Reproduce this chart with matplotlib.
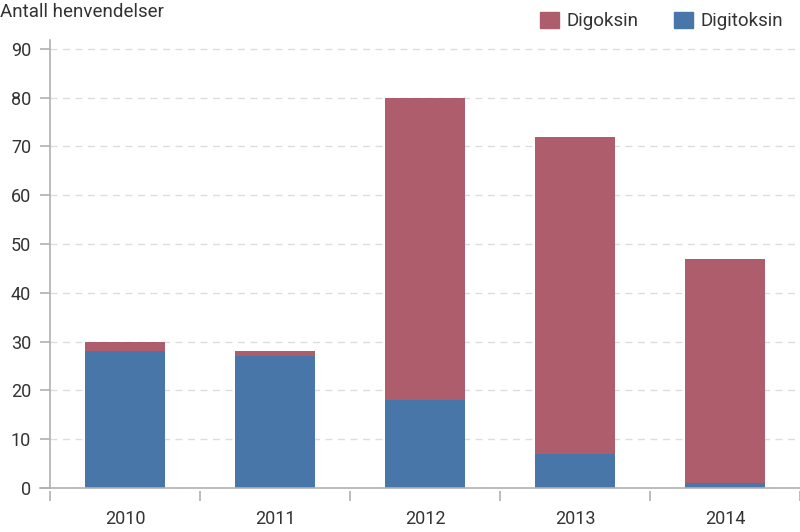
import numpy as np
import matplotlib
matplotlib.use("Agg")
from matplotlib import pyplot as plt
from matplotlib.patches import Patch

years = ["2010", "2011", "2012", "2013", "2014"]
digitoksin = [28, 27, 18, 7, 1]
digoksin = [2, 1, 62, 65, 46]

RED = "#ad5d6b"
BLUE = "#4876a8"
TEXT = "#333333"
AXIS = "#b0b0b0"

plt.rcParams["font.family"] = ["Roboto", "DejaVu Sans"]
plt.rcParams["text.color"] = TEXT

fig = plt.figure(figsize=(8, 5.32), dpi=100)
ax = fig.add_axes([50 / 800, 44 / 532, 750 / 800, 448 / 532])

x = np.arange(len(years))
ax.bar(x, digitoksin, width=0.53, color=BLUE, zorder=3)
ax.bar(x, digoksin, width=0.53, bottom=digitoksin, color=RED, zorder=3)

ax.set_xlim(-0.5, len(years) - 0.5)
ax.set_ylim(0, 91.8)
ax.set_yticks(range(0, 91, 10))

# grid lines
for v in range(10, 91, 10):
    ax.axhline(v, color="#dddddd", lw=1, ls=(0, (5, 4)), zorder=1)

# x axis line that pokes out left of y spine
ax.axhline(0, xmin=-10 / 750, xmax=1, color=AXIS, lw=1.2, clip_on=False, zorder=4)

for s in ["top", "right"]:
    ax.spines[s].set_visible(False)
ax.spines["left"].set_color(AXIS)
ax.spines["left"].set_linewidth(1.2)
ax.spines["bottom"].set_color("none")
ax.spines["bottom"].set_position(("outward", 2.5))

ax.set_xticks(x)
ax.set_xticklabels(years)
ax.set_xticks(np.arange(-0.5, len(years), 1.0), minor=True)
ax.tick_params(axis="x", which="major", length=0, pad=13, labelsize=13, labelcolor=TEXT)
ax.tick_params(axis="x", which="minor", length=7.5, width=1.2, color=AXIS, direction="out")
ax.tick_params(axis="y", length=7.5, width=1.2, color=AXIS, pad=6, labelsize=13, labelcolor=TEXT)

fig.text(0.0, 1 - 12 / 532, "Antall henvendelser", fontsize=13.5, color=TEXT, va="center", ha="left")

handles = [Patch(color=RED, label="Digoksin"), Patch(color=BLUE, label="Digitoksin")]
fig.legend(handles=handles, loc="upper right", bbox_to_anchor=(1.0, 1.01), ncol=2, frameon=False,
           fontsize=13.5, handlelength=1.0, handleheight=1.0, handletextpad=0.4, columnspacing=1.9)

fig.savefig("out.png", dpi=100)
